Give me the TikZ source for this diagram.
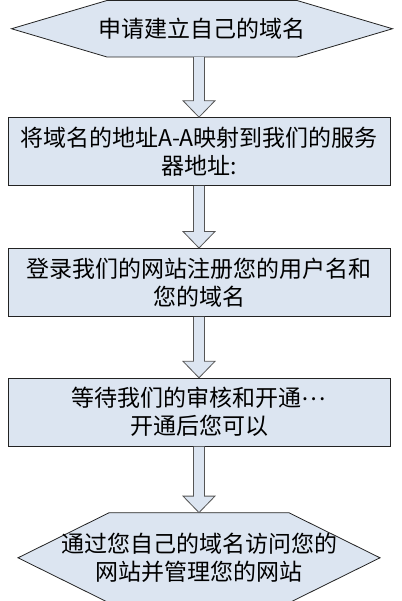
\documentclass[tikz,border=0pt]{standalone}
\usepackage{fontspec}
\newfontfamily\cjk{Noto Sans CJK SC}
\usepackage{tikz}
\usetikzlibrary{positioning, calc, backgrounds}
\definecolor{flowfill}{RGB}{220,229,241}
\definecolor{flowline}{RGB}{35,35,35}
\definecolor{arrowline}{RGB}{85,85,85}

\begin{document}
\begin{tikzpicture}[x=1pt, y=1pt,
        box/.style={rectangle, draw=flowline, fill=flowfill, line width=0.8pt, minimum width=382pt, minimum height=68pt, align=center, inner sep=2pt},
        hexnode/.style={rectangle, align=center, inner sep=0pt},
        hexline/.style={draw=flowline, fill=flowfill, line width=0.8pt},
        blockarrow/.style={draw=arrowline, fill=flowfill, line width=0.8pt},
        font=\cjk\fontsize{23}{28}\selectfont
    ]
        \useasboundingbox (0,0) rectangle (401,-601);
        \node[hexnode, minimum height=56.5pt] (APPLY) at (202,-28.75) {申请建立自己的域名};
        \node[box, below=60pt of APPLY, xshift=-3pt] (MAP) {将域名的地址A-A映射到我们的服务\\器地址:};
        \node[box, below=62pt of MAP] (REG) {登录我们的网站注册您的用户名和\\您的域名};
        \node[box, below=61pt of REG] (WAIT) {等待我们的审核和开通\raisebox{0.3em}{…}\\开通后您可以};
        \node[hexnode, minimum height=90pt, below=66pt of WAIT] (VISIT) {通过您自己的域名访问您的\\网站并管理您的网站};
        % hexagon outlines behind the texts
        \begin{scope}[on background layer]
            \filldraw[hexline] ($(APPLY.center)+(-95,28.25)$) -- ++(190,0) -- ++(95.5,-28.25) -- ++(-95.5,-28.25) -- ++(-190,0) -- ++(-95.5,28.25) -- cycle;
            \filldraw[hexline] ($(VISIT.center)+(-90,45)$) -- ++(180,0) -- ++(91,-45) -- ++(-91,-45) -- ++(-180,0) -- ++(-91,45) -- cycle;
        \end{scope}
        % block arrows
        \foreach \a/\b in {APPLY/MAP, MAP/REG, REG/WAIT, WAIT/VISIT}
            \filldraw[blockarrow] let \p1=(\a.south), \p2=(\b.north) in
                (\x2-5.5pt,\y1) -- (\x2-5.5pt,\y2+16.5pt) -- (\x2-16pt,\y2+16.5pt) -- (\x2,\y2)
                -- (\x2+16pt,\y2+16.5pt) -- (\x2+5.5pt,\y2+16.5pt) -- (\x2+5.5pt,\y1);
    \end{tikzpicture}
\end{document}
